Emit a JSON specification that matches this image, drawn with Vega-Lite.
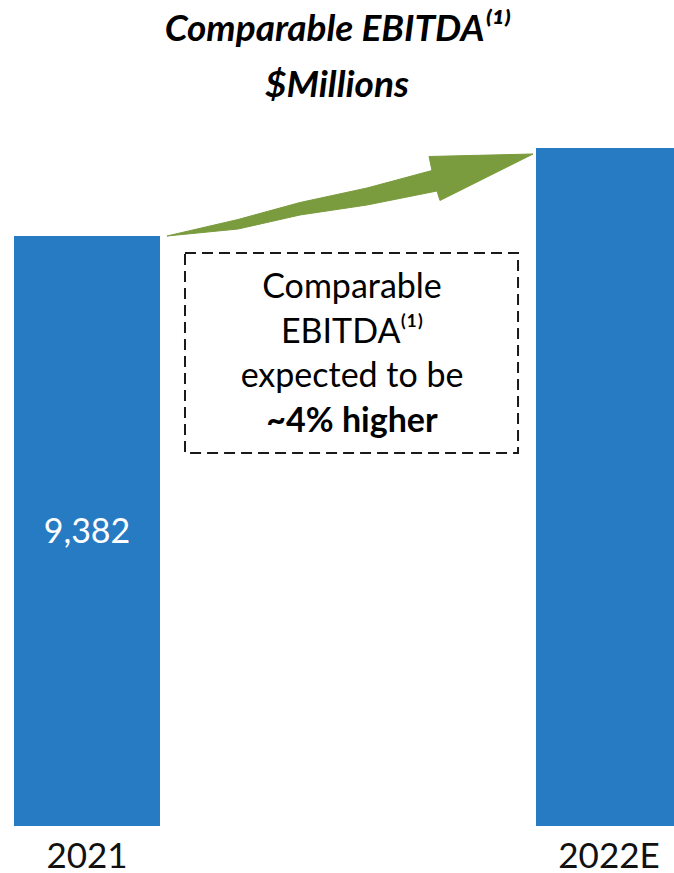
{
  "$schema": "https://vega.github.io/schema/vega-lite/v6.json",
  "width": 674,
  "height": 696,
  "autosize": {"type": "none"},
  "padding": {"top": 130, "left": 0, "right": 0, "bottom": 47},
  "background": "white",
  "config": {"view": {"stroke": null}, "font": "Lato"},
  "title": {
    "text": "Comparable EBITDA⁽¹⁾",
    "subtitle": "$Millions",
    "anchor": "middle",
    "font": "Lato",
    "fontSize": 37,
    "fontStyle": "italic",
    "fontWeight": "bold",
    "color": "#000000",
    "subtitleFont": "Lato",
    "subtitleFontSize": 37,
    "subtitleFontStyle": "italic",
    "subtitleFontWeight": "bold",
    "subtitleColor": "#000000",
    "subtitlePadding": 19,
    "offset": 25
  },
  "datasets": {
    "bars": [
      {"year": "2021", "value": 9382, "label": "9,382"},
      {"year": "2022E", "value": 9757, "label": ""}
    ],
    "arrow": [
      {"o": 1, "pos": 2021.1533, "value": 9382.3},
      {"o": 2, "pos": 2021.2893, "value": 9452.6},
      {"o": 3, "pos": 2021.4080, "value": 9525.0},
      {"o": 4, "pos": 2021.5364, "value": 9586.8},
      {"o": 5, "pos": 2021.6609, "value": 9661.4},
      {"o": 6, "pos": 2021.6552, "value": 9721.1},
      {"o": 7, "pos": 2021.8544, "value": 9731.7},
      {"o": 8, "pos": 2021.6762, "value": 9533.6},
      {"o": 9, "pos": 2021.6705, "value": 9574.1},
      {"o": 10, "pos": 2021.5364, "value": 9514.4},
      {"o": 11, "pos": 2021.4080, "value": 9471.8},
      {"o": 12, "pos": 2021.2893, "value": 9412.1},
      {"o": 13, "pos": 2021.1533, "value": 9382.3}
    ]
  },
  "layer": [
    {
      "data": {"name": "bars"},
      "encoding": {
        "x": {
          "field": "year",
          "type": "nominal",
          "sort": null,
          "scale": {"range": [0, 696], "paddingInner": 0.7203, "paddingOuter": 0.0268},
          "axis": {
            "title": null,
            "ticks": false,
            "domain": false,
            "grid": false,
            "labelAngle": 0,
            "labelFont": "Lato",
            "labelFontSize": 35,
            "labelColor": "#111111",
            "labelPadding": 41,
            "labelBaseline": "alphabetic"
          }
        },
        "y": {
          "field": "value",
          "type": "quantitative",
          "scale": {"domain": [6868, 9834], "nice": false, "zero": false},
          "axis": null
        }
      },
      "layer": [
        {"mark": {"type": "bar", "color": "#267bc2", "clip": true}},
        {
          "mark": {"type": "text", "color": "#ffffff", "font": "Lato", "fontSize": 34, "baseline": "alphabetic", "align": "center", "dy": 307},
          "encoding": {"text": {"field": "label"}}
        }
      ]
    },
    {
      "layer": [
        {
          "data": {"name": "arrow"},
          "mark": {"type": "line", "fill": "#7a9b3e", "stroke": "#7a9b3e", "strokeWidth": 1, "interpolate": "linear"},
          "encoding": {
            "x": {"field": "pos", "type": "quantitative", "scale": {"domain": [2020.8333, 2022.1245], "nice": false, "zero": false}, "axis": null},
            "y": {"field": "value", "type": "quantitative"},
            "order": {"field": "o", "type": "quantitative"}
          }
        },
        {
          "data": {"values": [{}]},
          "mark": {"type": "rect", "fill": "transparent", "stroke": "#1a1a1a", "strokeWidth": 2, "strokeDash": [11, 6]},
          "encoding": {
            "x": {"datum": 2021.1877, "type": "quantitative"},
            "x2": {"datum": 2021.8257},
            "y": {"datum": 9309.8, "type": "quantitative"},
            "y2": {"datum": 8457.5}
          }
        },
        {
          "data": {"values": [{}]},
          "mark": {"type": "text", "text": ["Comparable", "EBITDA⁽¹⁾", "expected to be"], "lineHeight": 44.7, "font": "Lato", "fontSize": 34, "baseline": "alphabetic", "align": "center", "color": "#000000"},
          "encoding": {
            "x": {"datum": 2021.5077, "type": "quantitative"},
            "y": {"datum": 9118, "type": "quantitative"}
          }
        },
        {
          "data": {"values": [{}]},
          "mark": {"type": "text", "text": "~4% higher", "font": "Lato", "fontSize": 34, "fontWeight": "bold", "baseline": "alphabetic", "align": "center", "color": "#000000"},
          "encoding": {
            "x": {"datum": 2021.5077, "type": "quantitative"},
            "y": {"datum": 8547, "type": "quantitative"}
          }
        }
      ]
    }
  ],
  "resolve": {"scale": {"x": "independent"}, "axis": {"x": "independent"}}
}
